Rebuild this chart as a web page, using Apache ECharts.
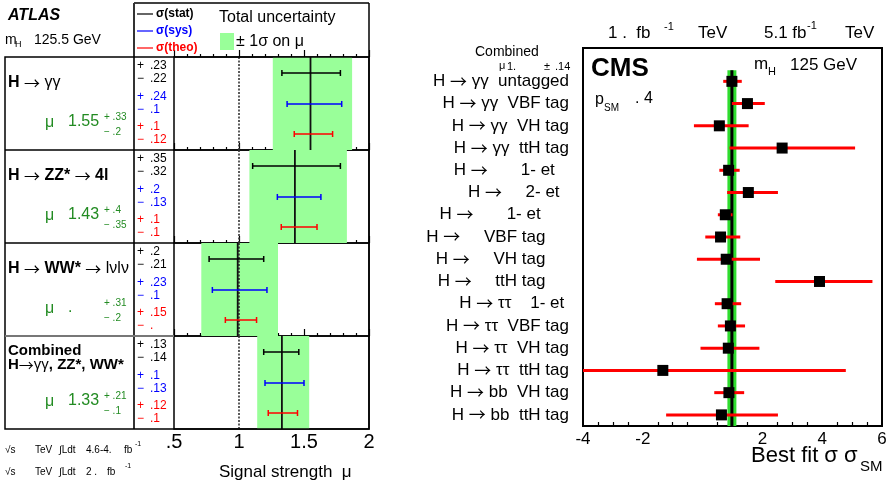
<!DOCTYPE html>
<html>
<head>
<meta charset="utf-8">
<style>
  html, body { margin: 0; padding: 0; background: #fff; }
  #chart { width: 891px; height: 486px; }
</style>
<script src="https://cdn.jsdelivr.net/npm/echarts@6/dist/echarts.min.js"></script>
</head>
<body>
<div id="chart"></div>
<script>
// ---- ATLAS: signal strength per channel ----
const atlasMu = [1.55, 1.43, 0.99, 1.33];
const atlasTotLo = [1.26, 1.08, 0.71, 1.14];
const atlasTotHi = [1.87, 1.83, 1.30, 1.54];
const atlasStatLo = [1.33, 1.105, 0.77, 1.19];
const atlasStatHi = [1.78, 1.78, 1.19, 1.46];
const atlasSysLo = [1.37, 1.295, 0.795, 1.20];
const atlasSysHi = [1.79, 1.63, 1.215, 1.50];
const atlasTheoLo = [1.425, 1.325, 0.895, 1.225];
const atlasTheoHi = [1.72, 1.60, 1.135, 1.45];

// texts of the table (as printed)
const atlasMuText = ['1.55', '1.43', '.', '1.33'];
const atlasMuUp = ['+ .33', '+ .4', '+ .31', '+ .21'];
const atlasMuDn = ['− .2', '− .35', '− .2', '− .1'];
const atlasErrText = [
  ['.23', '.22', '.24', '.1', '.1', '.12'],
  ['.35', '.32', '.2', '.13', '.1', '.1'],
  ['.2', '.21', '.23', '.1', '.15', '.'],
  ['.13', '.14', '.1', '.13', '.12', '.1'],
];
const atlasTicks = { 0.5: '.5', 1: '1', 1.5: '1.5', 2: '2' };

// ---- CMS: best fit sigma/sigma_SM per category ----
const NB = '\u00a0';
const sp = (n) => NB.repeat(n);
const cmsLabels = [
  'H → γγ' + sp(2) + 'untagged',
  'H → γγ' + sp(2) + 'VBF tag',
  'H → γγ' + sp(2) + 'VH tag',
  'H → γγ' + sp(2) + 'ttH tag',
  'H →' + sp(7) + '1- et' + sp(3),
  'H →' + sp(5) + '2- et' + sp(2),
  'H →' + sp(7) + '1- et' + sp(6),
  'H →' + sp(5) + 'VBF tag' + sp(5),
  'H →' + sp(5) + 'VH tag' + sp(5),
  'H →' + sp(5) + 'ttH tag' + sp(5),
  'H → ττ' + sp(4) + '1- et' + sp(1),
  'H → ττ' + sp(2) + 'VBF tag',
  'H → ττ' + sp(2) + 'VH tag',
  'H → ττ' + sp(2) + 'ttH tag',
  'H → bb' + sp(2) + 'VH tag',
  'H → bb' + sp(2) + 'ttH tag',
];
const cmsMu = [0.98, 1.5, 0.56, 2.66, 0.87, 1.53, 0.76, 0.6, 0.79, 3.91, 0.82, 0.93, 0.86, -1.33, 0.88, 0.63];
const cmsLo = [0.69, 0.98, -0.29, 0.9, 0.56, 0.82, 0.51, 0.09, -0.19, 2.43, 0.41, 0.51, -0.07, -4.0, 0.39, -1.22];
const cmsHi = [1.31, 2.08, 1.54, 5.1, 1.24, 2.52, 1.0, 1.26, 1.92, 5.68, 1.29, 1.42, 1.9, 4.79, 1.39, 2.52];
const cmsComb = [0.98, 0.83, 1.13]; // mu, lo, hi

const FONT = 'Liberation Sans';
const ARROW_FONT = 'Noto Sans CJK SC';
const rowTop = 57, rowH = 93;
const barY = [0.172, 0.505, 0.828];
const atlasColors = ['#000000', '#0000ff', '#ff0000'];
const green = '#228b22';

function atlasRowData(i) {
  return [
    [0, atlasTotLo[i], atlasTotHi[i], 0, 0],
    [3, 1, 1, 0, 0],
    [1, atlasMu[i], atlasMu[i], 0, 0],
    [2, atlasStatLo[i], atlasStatHi[i], barY[0], 0],
    [2, atlasSysLo[i], atlasSysHi[i], barY[1], 1],
    [2, atlasTheoLo[i], atlasTheoHi[i], barY[2], 2],
  ];
}

function renderAtlas(params, api) {
  const kind = api.value(0);
  if (kind === 0) {
    const a = api.coord([api.value(1), 0]);
    const b = api.coord([api.value(2), 1]);
    return { type: 'rect', shape: { x: a[0], y: a[1], width: b[0] - a[0], height: b[1] - a[1] }, style: { fill: '#99ff99' } };
  }
  if (kind === 1 || kind === 3) {
    const a = api.coord([api.value(1), 0]);
    const b = api.coord([api.value(1), 1]);
    return {
      type: 'line',
      shape: { x1: a[0], y1: a[1], x2: b[0], y2: b[1] },
      style: kind === 1 ? { stroke: '#111', lineWidth: 1.8 } : { stroke: '#333', lineWidth: 1.6, lineDash: [2, 1.5] },
    };
  }
  const y = api.value(3);
  const a = api.coord([api.value(1), y]);
  const b = api.coord([api.value(2), y]);
  const st = { stroke: atlasColors[api.value(4)], lineWidth: 1.5 };
  return {
    type: 'group',
    children: [
      { type: 'line', shape: { x1: a[0], y1: a[1], x2: b[0], y2: b[1] }, style: st },
      { type: 'line', shape: { x1: a[0], y1: a[1] - 3, x2: a[0], y2: a[1] + 3 }, style: st },
      { type: 'line', shape: { x1: b[0], y1: b[1] - 3, x2: b[0], y2: b[1] + 3 }, style: st },
    ],
  };
}

function renderCmsBand(params, api) {
  const h = api.size([0, 1])[1];
  const top = api.coord([api.value(0), 1])[1] - h / 2;
  const bot = api.coord([api.value(0), cmsLabels.length])[1] + h / 2;
  const x0 = api.coord([api.value(1), 1])[0];
  const x1 = api.coord([api.value(2), 1])[0];
  const xm = api.coord([api.value(0), 1])[0];
  return {
    type: 'group',
    children: [
      { type: 'rect', shape: { x: x0, y: top, width: x1 - x0, height: bot - top }, style: { fill: '#2fdc2f' } },
      { type: 'line', shape: { x1: xm, y1: top, x2: xm, y2: bot }, style: { stroke: '#000', lineWidth: 3 } },
    ],
  };
}

function renderCmsErr(params, api) {
  const a = api.coord([api.value(0), api.value(2)]);
  const b = api.coord([api.value(1), api.value(2)]);
  return { type: 'line', shape: { x1: a[0], y1: a[1], x2: b[0], y2: b[1] }, style: { stroke: '#ff0000', lineWidth: 3 } };
}

// text helpers
function txt(text, x, y, size, fill, weight, align) {
  return {
    type: 'text', x: x, y: y, z: 50,
    style: {
      text: text, font: (weight || 'normal') + ' ' + size + 'px ' + FONT,
      fill: fill || '#000', textAlign: align || 'left',
      textVerticalAlign: 'middle', verticalAlign: 'middle',
    },
  };
}
function rich(text, x, y, size) {
  return {
    type: 'text', x: x, y: y, z: 50,
    style: {
      text: text, font: size + 'px ' + FONT, fill: '#000',
      textVerticalAlign: 'middle', verticalAlign: 'middle',
      rich: {
        b: { font: 'bold ' + size + 'px ' + FONT, fill: '#000' },
        n: { font: size + 'px ' + FONT, fill: '#000' },
        a: { font: size + 'px ' + ARROW_FONT, fill: '#000' },
      },
    },
  };
}
function hline(x1, x2, y, color, w) {
  return { type: 'line', z: 40, shape: { x1: x1, y1: y, x2: x2, y2: y }, style: { stroke: color || '#000', lineWidth: w || 1.5 } };
}
function vline(x, y1, y2, color, w) {
  return { type: 'line', z: 40, shape: { x1: x, y1: y1, x2: x, y2: y2 }, style: { stroke: color || '#000', lineWidth: w || 1.5 } };
}

const graphic = [];
// ATLAS header
graphic.push(txt('ATLAS', 8, 16, 16, '#000', 'italic bold'));
graphic.push(txt('m', 5, 40, 14));
graphic.push(txt('H', 15, 45, 9));
graphic.push(txt('125.5 GeV', 34, 40, 14));
// legend box
graphic.push(hline(134, 369, 3), vline(369, 3, 57));
graphic.push(vline(134, 3, 429, '#333', 2));
const legNames = ['σ(stat)', 'σ(sys)', 'σ(theo)'];
[14, 31, 48].forEach((y, k) => {
  graphic.push(hline(137, 153, y, atlasColors[k], 1.2));
  graphic.push(txt(legNames[k], 156, y, 12, atlasColors[k], 'bold'));
});
graphic.push(txt('Total uncertainty', 219, 18, 16));
graphic.push({ type: 'rect', z: 40, shape: { x: 220, y: 33, width: 14, height: 17 }, style: { fill: '#99ff99' } });
graphic.push(txt('± 1σ on μ', 236, 42, 16));
// table frame
graphic.push({ type: 'rect', z: 40, shape: { x: 5, y: rowTop, width: 364, height: rowH * 4 }, style: { fill: 'none', stroke: '#000', lineWidth: 1.5 } });
for (let i = 1; i < 4; i++) graphic.push(hline(5, 174, rowTop + rowH * i, i === 3 ? '#777' : '#000', i === 3 ? 2 : 1.5));

// channel names
graphic.push(rich('{b|H} {a|→} {n|γγ}', 8, rowTop + 26, 16));
graphic.push(rich('{b|H} {a|→} {b|ZZ*} {a|→} {b|4l}', 8, rowTop + rowH + 26, 16));
graphic.push(rich('{b|H} {a|→} {b|WW*} {a|→} {n|lνlν}', 8, rowTop + rowH * 2 + 26, 16));
graphic.push(rich('{b|Combined}', 8, rowTop + rowH * 3 + 15, 15));
graphic.push(rich('{b|H}{a|→}{n|γγ}{b|, ZZ*, WW*}', 8, rowTop + rowH * 3 + 29, 15));

const errOff = [9, 21.5, 39.5, 52.5, 70, 83];
for (let i = 0; i < 4; i++) {
  const T = rowTop + rowH * i;
  graphic.push(txt('μ', 45, T + 66, 16, green));
  graphic.push(txt(atlasMuText[i], 68, T + 65, 16, green));
  graphic.push(txt(atlasMuUp[i], 104, T + 60, 10, green));
  graphic.push(txt(atlasMuDn[i], 104, T + 75.5, 10, green));
  for (let k = 0; k < 6; k++) {
    const c = atlasColors[Math.floor(k / 2)];
    graphic.push(txt(k % 2 === 0 ? '+' : '−', 137, T + errOff[k], 12, c));
    graphic.push(txt(atlasErrText[i][k], 150, T + errOff[k], 12, c));
  }
}
// ATLAS footer
[[450, '4.6-4.', 124, 135], [472, '2 .', 107, 125]].forEach(([y, lum, fbx, supx]) => {
  graphic.push(txt('√s', 5, y, 10));
  graphic.push(txt('TeV', 35, y, 10));
  graphic.push(txt('∫Ldt', 59, y, 10));
  graphic.push(txt(lum, 86, y, 10));
  graphic.push(txt('fb', fbx, y, 10));
  graphic.push(txt('-1', supx, y - 6, 7));
});
graphic.push(txt('Signal strength  μ', 219, 472, 17));

// CMS texts
graphic.push(txt('1 .  fb', 608, 33, 17));
graphic.push(txt('-1', 664, 27, 11));
graphic.push(txt('TeV', 698, 33, 17));
graphic.push(txt('5.1 fb', 764, 33, 17));
graphic.push(txt('-1', 807, 26, 11));
graphic.push(txt('TeV', 845, 33, 17));
graphic.push(txt('Combined', 475, 52, 14));
graphic.push(txt('μ', 499, 66, 11));
graphic.push(txt('1.', 507, 67, 11));
graphic.push(txt('±', 544, 67, 11));
graphic.push(txt('.14', 555, 67, 11));
graphic.push(txt('CMS', 591, 69, 26, '#000', 'bold'));
graphic.push(txt('m', 754, 64, 17));
graphic.push(txt('H', 768, 72, 11));
graphic.push(txt('125 GeV', 790, 65, 17));
graphic.push(txt('p', 595, 100, 16));
graphic.push(txt('SM', 604, 108, 10));
graphic.push(txt('. 4', 635, 99, 16));
graphic.push(txt('Best fit σ σ', 751, 456, 22));
graphic.push(txt('SM', 860, 467, 15));

const chart = echarts.init(document.getElementById('chart'));

const grids = [];
const xAxes = [];
const yAxes = [];
const series = [];
for (let i = 0; i < 4; i++) {
  grids.push({ left: 174, top: rowTop + rowH * i, width: 195, height: rowH, show: true, borderColor: '#000', borderWidth: 1.5 });
  xAxes.push({
    gridIndex: i, type: 'value', min: 0.5, max: 2, interval: 0.5,
    axisLine: { show: false },
    axisTick: { inside: true, length: 7, lineStyle: { color: '#000', width: 1.2 } },
    minorTick: { show: true, splitNumber: 5, length: 3, lineStyle: { color: '#000', width: 1.2 } },
    splitLine: { show: false }, minorSplitLine: { show: false },
    axisLabel: {
      show: i === 3, margin: 3, color: '#000', fontSize: 20, fontFamily: FONT,
      formatter: (v) => atlasTicks[v] || '',
    },
  });
  yAxes.push({ gridIndex: i, type: 'value', min: 0, max: 1, inverse: true, show: false });
  series.push({
    type: 'custom', xAxisIndex: i, yAxisIndex: i,
    renderItem: renderAtlas, encode: { x: [1, 2], y: 3 },
    data: atlasRowData(i), silent: true,
  });
}

// CMS panel
grids.push({ left: 583, top: 48, width: 299, height: 378, show: true, borderColor: '#000', borderWidth: 2 });
xAxes.push({
  gridIndex: 4, type: 'value', min: -4, max: 6, interval: 2,
  axisLine: { show: false },
  axisTick: { inside: true, length: 8, lineStyle: { color: '#000', width: 1.2 } },
  minorTick: { show: true, splitNumber: 4, length: 4, lineStyle: { color: '#000', width: 1.2 } },
  splitLine: { show: false },
  axisLabel: {
    margin: 5, color: '#000', fontSize: 17, fontFamily: FONT,
    formatter: (v) => (v === 0 ? '' : String(v)),
  },
});
yAxes.push({
  gridIndex: 4, type: 'category', inverse: true,
  data: [''].concat(cmsLabels),
  axisLine: { show: false }, axisTick: { show: false },
  axisLabel: {
    interval: 0, margin: 14, color: '#000', fontSize: 17, fontFamily: FONT,
    formatter: (v) => v.replace('→', '{a|→}'),
    rich: { a: { fontFamily: ARROW_FONT, fontSize: 17, color: '#000' } },
  },
});
series.push({
  type: 'custom', xAxisIndex: 4, yAxisIndex: 4, z: 1,
  renderItem: renderCmsBand, encode: { x: [0, 1, 2], y: 3 },
  data: [[cmsComb[0], cmsComb[1], cmsComb[2], 1]], silent: true,
});
series.push({
  type: 'custom', xAxisIndex: 4, yAxisIndex: 4, z: 2,
  renderItem: renderCmsErr, encode: { x: [0, 1], y: 2 },
  data: cmsLo.map((v, i) => [v, cmsHi[i], i + 1]), silent: true,
});
series.push({
  type: 'scatter', xAxisIndex: 4, yAxisIndex: 4, z: 3,
  symbol: 'rect', symbolSize: 11, itemStyle: { color: '#000', opacity: 1 },
  data: cmsMu.map((v, i) => [v, i + 1]), silent: true,
});

chart.setOption({
  animation: false,
  backgroundColor: '#fff',
  grid: grids,
  xAxis: xAxes,
  yAxis: yAxes,
  series: series,
  graphic: graphic,
});
</script>
</body>
</html>
